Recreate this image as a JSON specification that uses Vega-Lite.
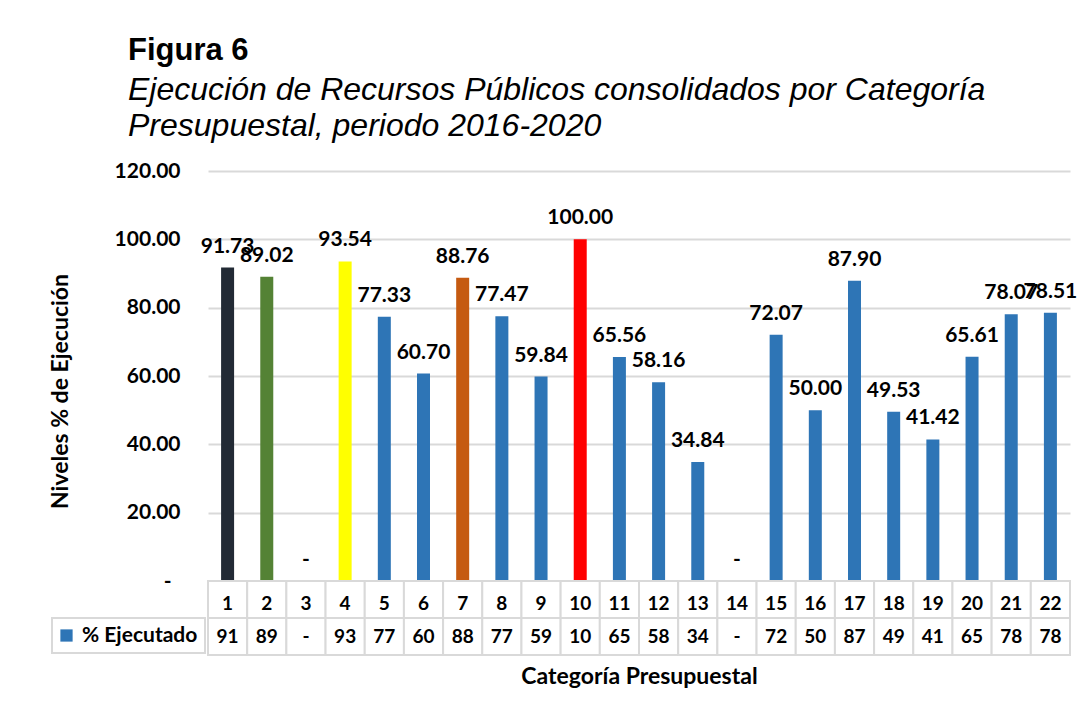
{
  "$schema": "https://vega.github.io/schema/vega-lite/v6.json",
  "background": "white",
  "padding": {"left": 48, "top": 35, "right": 5, "bottom": 5},
  "bounds": "flush",
  "spacing": 0,
  "config": {"view": {"stroke": null}, "font": "Lato", "legend": {"strokeWidth": 2}},
  "title": {
    "text": "Figura 6",
    "subtitle": ["Ejecución de Recursos Públicos consolidados por Categoría", "Presupuestal, periodo 2016-2020"],
    "anchor": "start",
    "dx": 79,
    "font": "Liberation Sans",
    "fontSize": 31,
    "fontWeight": "bold",
    "color": "black",
    "subtitleFont": "Liberation Sans",
    "subtitleFontSize": 32,
    "subtitleFontStyle": "italic",
    "subtitleColor": "black",
    "subtitlePadding": 8,
    "subtitleLineHeight": 36,
    "offset": 17
  },
  "datasets": {
    "d": [
      {"cat": 1, "valor": 91.73, "tabla": "91", "serie": "% Ejecutado"},
      {"cat": 2, "valor": 89.02, "tabla": "89", "serie": "% Ejecutado"},
      {"cat": 3, "valor": 0, "tabla": "-", "serie": "% Ejecutado"},
      {"cat": 4, "valor": 93.54, "tabla": "93", "serie": "% Ejecutado"},
      {"cat": 5, "valor": 77.33, "tabla": "77", "serie": "% Ejecutado"},
      {"cat": 6, "valor": 60.70, "tabla": "60", "serie": "% Ejecutado"},
      {"cat": 7, "valor": 88.76, "tabla": "88", "serie": "% Ejecutado"},
      {"cat": 8, "valor": 77.47, "tabla": "77", "serie": "% Ejecutado"},
      {"cat": 9, "valor": 59.84, "tabla": "59", "serie": "% Ejecutado"},
      {"cat": 10, "valor": 100.00, "tabla": "10", "serie": "% Ejecutado"},
      {"cat": 11, "valor": 65.56, "tabla": "65", "serie": "% Ejecutado"},
      {"cat": 12, "valor": 58.16, "tabla": "58", "serie": "% Ejecutado"},
      {"cat": 13, "valor": 34.84, "tabla": "34", "serie": "% Ejecutado"},
      {"cat": 14, "valor": 0, "tabla": "-", "serie": "% Ejecutado"},
      {"cat": 15, "valor": 72.07, "tabla": "72", "serie": "% Ejecutado"},
      {"cat": 16, "valor": 50.00, "tabla": "50", "serie": "% Ejecutado"},
      {"cat": 17, "valor": 87.90, "tabla": "87", "serie": "% Ejecutado"},
      {"cat": 18, "valor": 49.53, "tabla": "49", "serie": "% Ejecutado"},
      {"cat": 19, "valor": 41.42, "tabla": "41", "serie": "% Ejecutado"},
      {"cat": 20, "valor": 65.61, "tabla": "65", "serie": "% Ejecutado"},
      {"cat": 21, "valor": 78.07, "tabla": "78", "serie": "% Ejecutado"},
      {"cat": 22, "valor": 78.51, "tabla": "78", "serie": "% Ejecutado"}
    ]
  },
  "vconcat": [
    {
      "width": 862,
      "height": 410,
      "data": {"name": "d"},
      "encoding": {
        "x": {"field": "cat", "type": "ordinal", "axis": null, "scale": {"paddingInner": 0, "paddingOuter": 0}},
        "y": {
          "field": "valor",
          "type": "quantitative",
          "scale": {"domain": [0, 120], "nice": false},
          "axis": {
            "values": [0, 20, 40, 60, 80, 100, 120],
            "labelExpr": "datum.value == 0 ? '-' : format(datum.value, '.2f')",
            "labelFont": "Lato",
            "labelFontWeight": "bold",
            "labelFontSize": 21,
            "labelColor": "black",
            "labelPadding": {"condition": {"test": "datum.value == 0", "value": 37}, "value": 28},
            "ticks": false,
            "domain": false,
            "grid": true,
            "gridColor": "#d9d9d9",
            "gridWidth": 2,
            "title": "Niveles % de Ejecución",
            "titleFont": "Lato",
            "titleFontSize": 23,
            "titleFontWeight": "bold",
            "titleColor": "black",
            "titleAngle": -90,
            "titleX": -148,
            "titleY": 220,
            "titleBaseline": "middle",
            "titleAlign": "center"
          }
        }
      },
      "layer": [
        {
          "mark": {"type": "bar", "width": 13},
          "encoding": {
            "color": {
              "condition": [
                {"test": "datum.cat == 1", "value": "#222a35"},
                {"test": "datum.cat == 2", "value": "#548235"},
                {"test": "datum.cat == 4", "value": "#ffff00"},
                {"test": "datum.cat == 7", "value": "#c55a11"},
                {"test": "datum.cat == 10", "value": "#ff0000"}
              ],
              "field": "serie",
              "type": "nominal",
              "scale": {"range": ["#2e75b6"]},
              "legend": {
                "orient": "none",
                "legendX": -156,
                "legendY": 447,
                "title": null,
                "symbolType": "square",
                "symbolSize": 150,
                "symbolStrokeWidth": 0,
                "symbolOffset": -3,
                "labelFont": "Lato",
                "labelFontWeight": "bold",
                "labelFontSize": 21,
                "labelColor": "black",
                "labelOffset": 5,
                "padding": 7,
                "fillColor": "white",
                "strokeColor": "#d9d9d9",
                "cornerRadius": 0
              }
            }
          }
        },
        {
          "mark": {"type": "text", "baseline": "alphabetic", "dy": -15, "font": "Lato", "fontWeight": "bold", "fontSize": 21, "color": "black"},
          "encoding": {
            "text": {"condition": {"test": "datum.valor == 0", "value": "-"}, "field": "valor", "type": "quantitative", "format": ".2f"}
          }
        }
      ]
    },
    {
      "width": 862,
      "height": 74,
      "data": {"name": "d"},
      "encoding": {
        "x": {
          "field": "cat",
          "type": "ordinal",
          "scale": {"paddingInner": 0, "paddingOuter": 0},
          "axis": {
            "labels": false,
            "ticks": false,
            "domain": false,
            "title": "Categoría Presupuestal",
            "titleFont": "Lato",
            "titleFontSize": 23,
            "titleFontWeight": "bold",
            "titleColor": "black",
            "titlePadding": 10
          }
        }
      },
      "layer": [
        {
          "mark": {"type": "rect", "fill": "white", "stroke": "#d9d9d9", "strokeWidth": 2},
          "encoding": {"y": {"datum": "n", "type": "nominal", "axis": null, "scale": {"domain": ["n", "v"]}}}
        },
        {
          "mark": {"type": "rect", "fill": "white", "stroke": "#d9d9d9", "strokeWidth": 2},
          "encoding": {"y": {"datum": "v", "type": "nominal"}}
        },
        {
          "mark": {"type": "text", "font": "Lato", "fontWeight": "bold", "fontSize": 19, "color": "black", "dy": 4},
          "encoding": {"y": {"datum": "n", "type": "nominal"}, "text": {"field": "cat", "type": "ordinal"}}
        },
        {
          "mark": {"type": "text", "font": "Lato", "fontWeight": "bold", "fontSize": 19, "color": "black"},
          "encoding": {"y": {"datum": "v", "type": "nominal"}, "text": {"field": "tabla", "type": "nominal"}}
        }
      ]
    }
  ]
}
